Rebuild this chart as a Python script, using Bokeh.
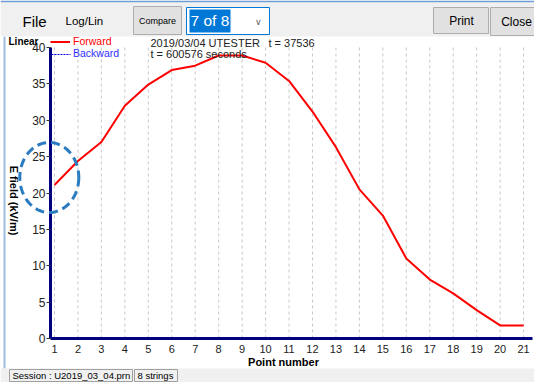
import numpy as np
from bokeh.plotting import figure
from bokeh.models import (FixedTicker, Label, BoxAnnotation, PolyAnnotation, Range1d,
                          Legend, LegendItem)
from bokeh.embed import file_html
from bokeh.resources import INLINE

# ---- data ----
point_number = list(range(1, 22))
e_field_forward = [21.1, 24.4, 27.0, 32.0, 34.9, 36.9, 37.5, 38.9, 38.9, 37.9, 35.4,
                   31.2, 26.3, 20.5, 16.9, 11.0, 8.1, 6.2, 3.9, 1.8, 1.8]
e_field_backward = []          # listed in legend, no points drawn
x_ticks = list(range(1, 22))
y_ticks = [0, 5, 10, 15, 20, 25, 30, 35, 40]
header_line1 = "2019/03/04 UTESTER"
header_time = "t = 37536"
header_line2 = "t = 600576 seconds"
series_names = ["Forward", "Backward"]
session_text = "Session : U2019_03_04.prn"
strings_text = "8 strings"

FONT = "Liberation Sans"
X0, X1 = 0.83, 21.38     # visible data extent of the chart area
Y0, Y1 = 0, 40

# chart area in canvas pixels: x 50..532, y 47..338
W, H = 534, 382
FL, FR, FT, FB = 50, 532, 47, 338
ppx = (FR - FL) / (X1 - X0)
ppy = (FB - FT) / (Y1 - Y0)
xs0, xs1 = X0 - FL / ppx, X1 + (W - FR) / ppx
ys0, ys1 = Y0 - (H - FB) / ppy, Y1 + FT / ppy

def dx(px):
    return xs0 + px / ppx
def dy(py):
    return ys1 - py / ppy

p = figure(width=W, height=H, output_backend="svg", toolbar_location=None,
           x_range=Range1d(xs0, xs1), y_range=Range1d(ys0, ys1),
           min_border=0, min_border_left=0, min_border_right=0, min_border_top=0, min_border_bottom=0,
           background_fill_color="white", border_fill_color="white", outline_line_color=None)

# axes drawn at fixed data locations
p.xaxis.fixed_location = Y0
p.yaxis.fixed_location = X0
p.xaxis.bounds = (X0, X1)
p.yaxis.bounds = (Y0, Y1)
p.xaxis.ticker = FixedTicker(ticks=x_ticks)
p.yaxis.ticker = FixedTicker(ticks=y_ticks)
for ax in (p.xaxis, p.yaxis):
    ax.axis_line_color = "#000080"
    ax.axis_line_width = 3
    ax.minor_tick_line_color = None
    ax.major_label_text_font = FONT
    ax.major_label_text_color = "#222222"
p.xaxis.major_tick_line_color = None
p.xaxis.major_tick_out = 0
p.xaxis.major_tick_in = 0
p.xaxis.major_label_standoff = 6
p.xaxis.major_label_text_font_size = "11px"
p.yaxis.major_tick_out = 4
p.yaxis.major_tick_in = 0
p.yaxis.major_tick_line_color = "#333333"
p.yaxis.major_label_standoff = 1
p.yaxis.major_label_text_font_size = "12px"
p.grid.visible = False

# vertical dashed grid lines at each point number, spanning the value axis
p.segment(x0=x_ticks, y0=[Y0] * len(x_ticks), x1=x_ticks, y1=[Y1] * len(x_ticks),
          line_color="#c8c8c8", line_dash="3 3", line_width=1)

# data lines
r_fwd = p.line(point_number, e_field_forward, line_color="#ff0000", line_width=2)
r_bwd = p.line(point_number[:len(e_field_backward)], e_field_backward,
               line_color="#0000ff", line_width=1, line_dash="2 1")

def box(x0, y0, x1, y1, fill, line=None):
    b = BoxAnnotation(left=dx(x0), right=dx(x1), top=dy(y0), bottom=dy(y1),
                      fill_color=fill, fill_alpha=1,
                      line_color=line if line else "black", line_alpha=1 if line else 0,
                      line_width=1)
    p.add_layout(b)

def label(x, y, text, size, color="#000000", align="left", style="normal", angle=0):
    lb = Label(x=dx(x), y=dy(y), text=text, text_font=FONT, text_font_size=size,
               text_color=color, text_align=align, text_baseline="middle",
               text_font_style=style, angle=angle)
    p.add_layout(lb)

# window frame lines
box(0, 0, 534, 2, "#6f9bd4")
box(3, 36, 5, 368, "#9cbde3")

# top toolbar
box(0, 2, 534, 36, "#f0f0f0")
label(22, 21, "File", "15px")
label(65, 20, "Log/Lin", "11.5px")
box(133, 6, 181, 34, "#e1e1e1", "#adadad")
label(157, 20, "Compare", "9px", align="center")
box(186, 7, 269, 34, "#ffffff", "#0078d7")
box(189, 9, 230, 32, "#0078d7")
label(190, 20, "7 of 8", "15.5px", color="#ffffff")
label(258, 21, "\u2228", "9px", color="#606060", align="center")
box(433, 7, 488, 33, "#e1e1e1", "#adadad")
label(461, 20, "Print", "12px", align="center")
box(490, 7, 540, 35, "#e1e1e1", "#adadad")
label(516, 21, "Close", "12px", align="center")

# status bar (fitted inside the canvas)
box(0, 368, 540, 390, "#f0f0f0")
box(9, 369, 132, 381, "#f0f0f0", "#a0a0a0")
label(12, 375, session_text, "9.5px")
box(134, 369, 177, 381, "#f0f0f0", "#a0a0a0")
label(137, 375, strings_text, "9.5px")

# chart texts
label(8, 41, "Linear", "10px", style="bold")
label(150, 42, header_line1, "11px", color="#222222")
label(268, 42, header_time, "11px", color="#222222")
label(150, 53, header_line2, "11px", color="#222222")
label(283, 361, "Point number", "11px", align="center", style="bold")
label(13, 200, "E field (kV/m)", "11px", align="center", style="bold", angle=-np.pi / 2)

# legends (one per series so each label keeps its own colour)
for rend, name, col, ybot in ((r_fwd, series_names[0], "#ff0000", 47),
                              (r_bwd, series_names[1], "#3030ff", 59)):
    lg = Legend(items=[LegendItem(label=name, renderers=[rend])],
                location=(FL, H - ybot), orientation="vertical",
                glyph_width=20, glyph_height=11, label_height=11, label_width=10,
                label_standoff=3, padding=0, margin=0, spacing=0,
                border_line_color=None, background_fill_alpha=0,
                label_text_font=FONT, label_text_font_size="10.5px", label_text_color=col)
    p.add_layout(lg)

# dashed key sample for the (empty) backward series
key_b = PolyAnnotation(xs=[dx(51), dx(70)], ys=[dy(54), dy(54)],
                       fill_color=None, line_color="#0000ff", line_alpha=1, line_width=1,
                       line_dash="2 1")
p.add_layout(key_b)

# highlight ellipse (annotation)
t = np.linspace(0, 2 * np.pi, 80)
cx, cy, rx, ry = 48.8, 177, 29.5, 35
ell = PolyAnnotation(xs=[dx(cx + rx * np.cos(a)) for a in t], ys=[dy(cy + ry * np.sin(a)) for a in t],
                     fill_color=None, line_color="#2a7bc0", line_alpha=1, line_width=3,
                     line_dash="9 5")
p.add_layout(ell)

open("out.html", "w").write(file_html(p, INLINE))
